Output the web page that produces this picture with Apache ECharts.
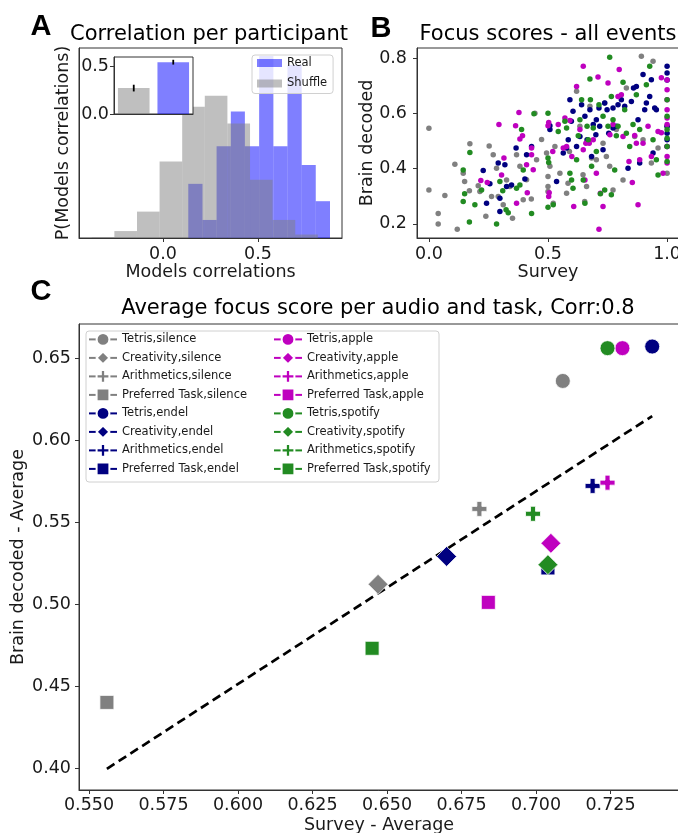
<!DOCTYPE html>
<html>
<head>
<meta charset="utf-8">
<script src="https://cdn.jsdelivr.net/npm/echarts@6/dist/echarts.min.js"></script>
<style>
  html, body { margin: 0; padding: 0; background: #fff; }
  #chart { width: 678px; height: 833px; }
</style>
</head>
<body>
<div id="chart"></div>
<script>
const FONT = 'DejaVu Sans';
const INK = '#1a1a1a';
const SPINE = '#333';

// A - histogram of model correlations (density)
const realEdges = [0.133, 0.208, 0.282, 0.357, 0.431, 0.506, 0.581, 0.655, 0.730, 0.804, 0.879];
const realDensity = [0.78, 0.26, 1.32, 1.82, 1.32, 2.62, 1.32, 2.49, 1.05, 0.53];
const shuffleEdges = [-0.375, -0.256, -0.137, -0.018, 0.101, 0.220, 0.339, 0.458, 0.577, 0.696, 0.815];
const shuffleDensity = [0.01, 0.10, 0.38, 1.10, 1.89, 2.05, 1.65, 0.84, 0.26, 0.05];
const histTicks = [0, 0.5];

// A inset - mean correlation with error
const insetNames = ['Shuffle', 'Real'];
const insetMean = [0.27, 0.54];
const insetErr = [0.035, 0.025];
const insetTicks = [0, 0.5];

// B - focus scores, all events [survey, brain decoded]
const bSilence = [[0,0.546],[0,0.323],[0.039,0.238],[0.039,0.2],[0.067,0.303],[0.109,0.416],[0.119,0.181],[0.144,0.383],[0.15,0.353],[0.172,0.49],[0.17,0.32],[0.207,0.338],[0.214,0.317],[0.239,0.228],[0.253,0.482],[0.263,0.299],[0.27,0.45],[0.284,0.401],[0.291,0.299],[0.312,0.269],[0.326,0.359],[0.34,0.335],[0.351,0.22],[0.368,0.45],[0.382,0.408],[0.396,0.287],[0.41,0.36],[0.43,0.29],[0.445,0.6],[0.452,0.432],[0.473,0.505],[0.494,0.456],[0.5,0.371],[0.5,0.335],[0.5,0.317],[0.508,0.408],[0.522,0.275],[0.529,0.48],[0.55,0.383],[0.578,0.311],[0.584,0.347],[0.59,0.462],[0.62,0.68],[0.634,0.553],[0.647,0.378],[0.654,0.281],[0.662,0.335],[0.676,0.625],[0.683,0.438],[0.703,0.432],[0.731,0.492],[0.738,0.637],[0.745,0.444],[0.759,0.408],[0.773,0.323],[0.787,0.541],[0.815,0.359],[0.829,0.691],[0.864,0.516],[0.892,0.806],[0.899,0.504],[0.934,0.42],[0.941,0.788],[0.962,0.474],[1,0.553],[1,0.383]];
const bEndel = [[0.228,0.393],[0.242,0.275],[0.256,0.345],[0.291,0.42],[0.298,0.293],[0.298,0.245],[0.319,0.414],[0.326,0.335],[0.347,0.341],[0.366,0.474],[0.403,0.362],[0.41,0.45],[0.431,0.48],[0.508,0.541],[0.508,0.555],[0.536,0.353],[0.564,0.456],[0.578,0.474],[0.585,0.504],[0.592,0.649],[0.598,0.571],[0.605,0.607],[0.62,0.48],[0.634,0.516],[0.641,0.631],[0.655,0.589],[0.664,0.504],[0.676,0.613],[0.683,0.444],[0.69,0.559],[0.701,0.522],[0.703,0.577],[0.714,0.619],[0.717,0.553],[0.731,0.468],[0.738,0.637],[0.748,0.613],[0.755,0.528],[0.773,0.619],[0.773,0.547],[0.787,0.553],[0.794,0.631],[0.808,0.649],[0.822,0.625],[0.836,0.401],[0.85,0.643],[0.859,0.691],[0.871,0.697],[0.878,0.577],[0.885,0.42],[0.899,0.74],[0.906,0.613],[0.913,0.637],[0.927,0.661],[0.934,0.721],[0.941,0.456],[0.948,0.619],[0.955,0.613],[1,0.77],[1,0.746],[1,0.72],[1,0.553],[1,0.528],[1,0.504],[1,0.48]];
const bApple = [[0.294,0.559],[0.364,0.555],[0.378,0.603],[0.315,0.438],[0.305,0.377],[0.382,0.507],[0.393,0.519],[0.41,0.414],[0.431,0.45],[0.438,0.396],[0.413,0.313],[0.368,0.275],[0.5,0.555],[0.503,0.567],[0.505,0.313],[0.503,0.299],[0.543,0.559],[0.571,0.583],[0.564,0.474],[0.592,0.574],[0.62,0.697],[0.608,0.263],[0.648,0.77],[0.634,0.541],[0.648,0.468],[0.655,0.359],[0.659,0.492],[0.673,0.492],[0.69,0.504],[0.71,0.731],[0.703,0.383],[0.714,0.181],[0.72,0.311],[0.731,0.263],[0.752,0.709],[0.76,0.522],[0.773,0.559],[0.799,0.758],[0.794,0.661],[0.808,0.667],[0.815,0.516],[0.84,0.426],[0.854,0.35],[0.864,0.52],[0.871,0.492],[0.878,0.269],[0.885,0.432],[0.899,0.492],[0.92,0.553],[0.934,0.444],[0.962,0.534],[0.976,0.728],[0.983,0.383],[1,0.685],[1,0.649],[1,0.613],[1,0.583],[1,0.559],[1,0.48],[1,0.444],[1,0.42],[1,0.72],[0.976,0.53],[0.218,0.357],[0.245,0.35],[0.431,0.474],[0.52,0.462],[0.578,0.48],[0.6,0.444]];
const bSpotify = [[0.144,0.395],[0.15,0.309],[0.144,0.281],[0.172,0.458],[0.17,0.207],[0.193,0.269],[0.221,0.323],[0.284,0.2],[0.298,0.353],[0.31,0.32],[0.324,0.251],[0.333,0.24],[0.368,0.329],[0.382,0.341],[0.389,0.541],[0.396,0.395],[0.431,0.238],[0.441,0.598],[0.5,0.6],[0.5,0.438],[0.503,0.422],[0.5,0.26],[0.522,0.269],[0.543,0.534],[0.571,0.571],[0.578,0.547],[0.592,0.383],[0.599,0.359],[0.605,0.329],[0.62,0.432],[0.627,0.519],[0.634,0.577],[0.641,0.649],[0.648,0.359],[0.655,0.275],[0.664,0.553],[0.669,0.504],[0.676,0.724],[0.678,0.649],[0.683,0.408],[0.69,0.547],[0.703,0.462],[0.714,0.631],[0.72,0.309],[0.731,0.589],[0.738,0.323],[0.752,0.553],[0.759,0.803],[0.766,0.661],[0.766,0.305],[0.773,0.577],[0.78,0.395],[0.787,0.519],[0.794,0.553],[0.815,0.712],[0.822,0.613],[0.829,0.528],[0.843,0.48],[0.857,0.559],[0.871,0.667],[0.885,0.541],[0.913,0.703],[0.927,0.77],[0.941,0.504],[0.955,0.432],[0.962,0.377],[1,0.649],[1,0.541],[1,0.51],[1,0.48],[1,0.426],[1,0.589]];
const bTicksX = [0, 0.5, 1];
const bTicksY = [0.2, 0.4, 0.6, 0.8];

// C - averages per audio and task (order follows tasks)
const tasks = ['Tetris', 'Creativity', 'Arithmetics', 'Preferred Task'];
const audios = ['silence', 'endel', 'apple', 'spotify'];
const surveySilence = [0.709, 0.647, 0.681, 0.556];
const surveyEndel = [0.739, 0.670, 0.719, 0.704];
const surveyApple = [0.729, 0.705, 0.724, 0.684];
const surveySpotify = [0.724, 0.704, 0.699, 0.645];
const brainSilence = [0.636, 0.512, 0.558, 0.440];
const brainEndel = [0.657, 0.529, 0.572, 0.522];
const brainApple = [0.656, 0.537, 0.574, 0.501];
const brainSpotify = [0.656, 0.524, 0.555, 0.473];
const fitSurvey = [0.556, 0.739];
const fitBrain = [0.3995, 0.6146];
const cTicksX = [0.55, 0.575, 0.6, 0.625, 0.65, 0.675, 0.7, 0.725];
const cTicksY = [0.40, 0.45, 0.50, 0.55, 0.60, 0.65];

const audioColors = ['#808080', '#000080', '#bf00bf', '#228b22'];
const PLUS = 'path://M1,0H2V1H3V2H2V3H1V2H0V1H1Z';
const taskSymbols = ['circle', 'diamond', PLUS, 'rect'];
const taskSizes = [15, 20, 15, 14];

const chart = echarts.init(document.getElementById('chart'));

function valueAxis(grid, min, max, ticks, digits, o) {
  o = o || {};
  return {
    type: 'value', gridIndex: grid, min: min, max: max,
    splitLine: { show: false },
    axisLine: { show: true, onZero: false, lineStyle: { color: SPINE, width: 1 } },
    axisTick: { show: !!ticks, customValues: ticks || [], length: 4, lineStyle: { color: SPINE, width: 1 } },
    axisLabel: {
      show: !!ticks, customValues: ticks || [], formatter: v => v.toFixed(digits),
      color: INK, fontFamily: FONT, fontSize: 17.5, margin: o.margin != null ? o.margin : 7
    },
    name: o.name || '', nameLocation: 'middle', nameGap: o.nameGap || 0,
    nameMoveOverlap: false,
    nameTextStyle: { color: INK, fontFamily: FONT, fontSize: 17.5 },
    z: o.z || 0
  };
}

function histItem(color) {
  return function (params, api) {
    const lo = api.coord([api.value(0), 0]);
    const hi = api.coord([api.value(1), api.value(2)]);
    return {
      type: 'rect',
      shape: { x: lo[0], y: hi[1], width: hi[0] - lo[0], height: lo[1] - hi[1] },
      style: { fill: color }
    };
  };
}

function bins(edges, dens) {
  return dens.map((d, i) => [edges[i], edges[i + 1], d]);
}

const REAL = 'rgba(0,0,255,0.5)';
const SHUF = 'rgba(128,128,128,0.5)';

const survey = [surveySilence, surveyEndel, surveyApple, surveySpotify];
const brain = [brainSilence, brainEndel, brainApple, brainSpotify];
const cNames = [];
const cSeries = [];
audios.forEach((a, ai) => {
  tasks.forEach((t, ti) => {
    const name = t + ',' + a;
    cNames.push(name);
    cSeries.push({
      type: 'line', name: name, xAxisIndex: 3, yAxisIndex: 3,
      data: [[survey[ai][ti], brain[ai][ti]]],
      symbol: taskSymbols[ti], symbolSize: taskSizes[ti], showSymbol: true,
      lineStyle: { color: audioColors[ai], width: 1.5 },
      itemStyle: { color: audioColors[ai], borderColor: '#fff', borderWidth: 0.8 },
      emphasis: { disabled: true }, silent: true, z: 4
    });
  });
});

const bSets = [bSilence, bEndel, bApple, bSpotify];
const bSeries = bSets.map((d, i) => ({
  type: 'scatter', name: 'b' + audios[i], xAxisIndex: 2, yAxisIndex: 2,
  data: d, symbolSize: 5.5, itemStyle: { color: audioColors[i], opacity: 1 },
  emphasis: { disabled: true }, silent: true
}));

function label(text, x, y, size, bold, family) {
  return {
    type: 'text', x: x, y: y, z: 20,
    style: {
      text: text, fill: '#000', fontSize: size, fontFamily: family || FONT,
      fontWeight: bold ? 'bold' : 'normal',
      align: 'center', verticalAlign: 'middle', textAlign: 'center', textVerticalAlign: 'middle'
    }
  };
}

const legendText = { color: INK, fontFamily: FONT, fontSize: 11.5 };

const option = {
  animation: false,
  backgroundColor: '#fff',
  grid: [
    { left: 79, top: 48, width: 263, height: 190, show: true, borderColor: SPINE, borderWidth: 1, backgroundColor: 'transparent', containLabel: false, outerBoundsMode: 'none' },
    { left: 114, top: 57, width: 79, height: 57, show: false, containLabel: false, outerBoundsMode: 'none' },
    { left: 417, top: 48, width: 262, height: 190, show: true, borderColor: SPINE, borderWidth: 1, backgroundColor: 'transparent', containLabel: false, outerBoundsMode: 'none' },
    { left: 79, top: 324, width: 600, height: 466, show: true, borderColor: SPINE, borderWidth: 1, backgroundColor: 'transparent', containLabel: false, outerBoundsMode: 'none' }
  ],
  xAxis: [
    valueAxis(0, -0.4421, 0.9421, histTicks, 1, { name: 'Models correlations', nameGap: 25 }),
    {
      type: 'category', gridIndex: 1, data: insetNames, z: 6,
      axisLine: { show: true, lineStyle: { color: SPINE } },
      axisTick: { show: false }, axisLabel: { show: false }, splitLine: { show: false }
    },
    valueAxis(2, -0.05, 1.05, bTicksX, 1, { name: 'Survey', nameGap: 25 }),
    valueAxis(3, 0.54664, 0.74799, cTicksX, 3, { name: 'Survey - Average', nameGap: 26, margin: 6 })
  ],
  yAxis: [
    valueAxis(0, 0, 2.736, null, 1, { name: 'P(Models correlations)', nameGap: 7 }),
    valueAxis(1, 0, 0.594, insetTicks, 1, { margin: 5, z: 6 }),
    valueAxis(2, 0.149, 0.836, bTicksY, 1, { name: 'Brain decoded', nameGap: 41, margin: 10 }),
    valueAxis(3, 0.38659, 0.67073, cTicksY, 2, { name: 'Brain decoded - Average', nameGap: 52, margin: 8 })
  ],
  legend: [
    {
      data: ['Real', 'Shuffle'], left: 252, top: 55, orient: 'vertical',
      icon: 'rect', itemWidth: 25, itemHeight: 8, itemGap: 8.5,
      padding: [2, 6, 4, 5], borderColor: '#d0d0d0', borderWidth: 1, borderRadius: 3,
      backgroundColor: 'rgba(255,255,255,0.8)', selectedMode: false, textStyle: legendText, z: 8
    },
    {
      data: cNames.slice(0, 8), left: 88, top: 332, orient: 'vertical',
      itemWidth: 28, itemHeight: 16, itemGap: 3.7, padding: 0,
      selectedMode: false, textStyle: legendText, z: 8
    },
    {
      data: cNames.slice(8), left: 273, top: 332, orient: 'vertical',
      itemWidth: 28, itemHeight: 16, itemGap: 3.7, padding: 0,
      selectedMode: false, textStyle: legendText, z: 8
    }
  ],
  graphic: [
    { type: 'rect', z: 3, shape: { x: 114, y: 57, width: 79, height: 57 }, style: { fill: '#fff', stroke: SPINE, lineWidth: 1 } },
    { type: 'rect', z: 3, shape: { x: 86, y: 331, width: 353, height: 151, r: 3 }, style: { fill: 'rgba(255,255,255,0.8)', stroke: '#d0d0d0', lineWidth: 1 } },
    label('A', 41, 27, 29, true, 'Liberation Sans'),
    label('B', 381, 29, 29, true, 'Liberation Sans'),
    label('C', 41, 292, 29, true, 'Liberation Sans'),
    label('Correlation per participant', 209, 35, 21),
    label('Focus scores - all events', 548, 35, 21),
    label('Average focus score per audio and task, Corr:0.8', 378, 309, 21)
  ],
  series: [
    {
      type: 'custom', name: 'Real', xAxisIndex: 0, yAxisIndex: 0,
      data: bins(realEdges, realDensity), encode: { x: [0, 1], y: 2 },
      renderItem: histItem(REAL), itemStyle: { color: REAL }, silent: true, z: 2
    },
    {
      type: 'custom', name: 'Shuffle', xAxisIndex: 0, yAxisIndex: 0,
      data: bins(shuffleEdges, shuffleDensity), encode: { x: [0, 1], y: 2 },
      renderItem: histItem(SHUF), itemStyle: { color: SHUF }, silent: true, z: 2
    },
    {
      type: 'bar', name: 'inset', xAxisIndex: 1, yAxisIndex: 1, barWidth: '80%',
      data: insetMean.map((m, i) => ({ value: m, itemStyle: { color: i === 0 ? SHUF : REAL } })),
      silent: true, z: 4
    },
    {
      type: 'custom', name: 'insetErr', xAxisIndex: 1, yAxisIndex: 1,
      data: insetMean.map((m, i) => [i, m - insetErr[i], m + insetErr[i]]),
      encode: { x: 0, y: [1, 2] },
      renderItem: function (params, api) {
        const lo = api.coord([api.value(0), api.value(1)]);
        const hi = api.coord([api.value(0), api.value(2)]);
        return { type: 'line', shape: { x1: lo[0], y1: lo[1], x2: hi[0], y2: hi[1] }, style: { stroke: '#000', lineWidth: 1.8 } };
      },
      silent: true, z: 5
    },
    ...bSeries,
    {
      type: 'line', name: 'fit', xAxisIndex: 3, yAxisIndex: 3,
      data: fitSurvey.map((x, i) => [x, fitBrain[i]]), showSymbol: false, symbol: 'none',
      lineStyle: { color: '#000', width: 2.7, type: [9, 5] }, silent: true, z: 3
    },
    ...cSeries
  ]
};

chart.setOption(option);
</script>
</body>
</html>
